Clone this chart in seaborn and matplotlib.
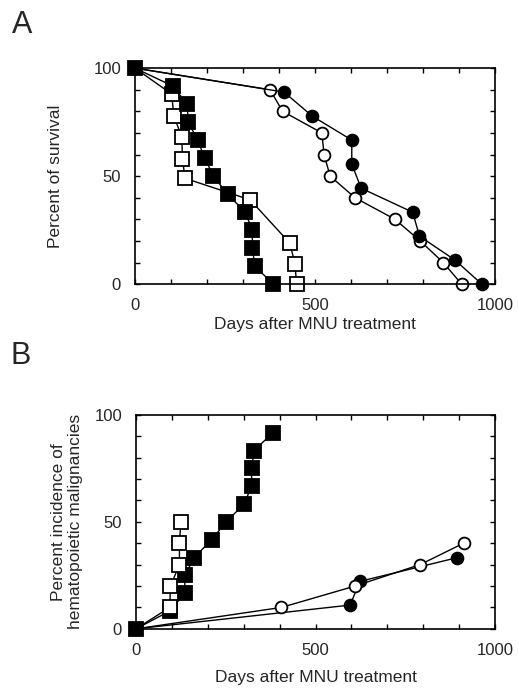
import matplotlib
matplotlib.use("Agg")
import matplotlib.pyplot as plt
from matplotlib.ticker import MultipleLocator
import seaborn as sns
import pandas as pd

# ---- Panel A: survival ----
a_fsq_x = [0, 105, 145, 148, 174, 194, 218, 257, 306, 326, 326, 333, 384]
a_fsq_y = [100, 91.7, 83.3, 75, 66.7, 58.3, 50, 41.7, 33.3, 25, 16.7, 8.3, 0]
a_osq_x = [0, 102, 108, 130, 132, 139, 320, 430, 444, 449]
a_osq_y = [100, 88, 78, 68, 58, 49, 39, 19, 9.5, 0]
a_fci_x = [0, 414, 492, 602, 602, 628, 771, 790, 889, 963]
a_fci_y = [100, 88.9, 77.8, 66.7, 55.6, 44.4, 33.3, 22.2, 11.1, 0]
a_oci_x = [0, 375, 410, 519, 525, 542, 611, 722, 792, 856, 907]
a_oci_y = [100, 90, 80, 70, 60, 50, 40, 30, 20, 10, 0]

# ---- Panel B: incidence ----
b_fsq_x = [0, 94, 136, 136, 162, 211, 251, 301, 322, 322, 329, 381]
b_fsq_y = [0, 8.3, 16.7, 25, 33.3, 41.7, 50, 58.3, 66.7, 75, 83.3, 91.7]
b_osq_x = [0, 94, 96, 121, 121, 125]
b_osq_y = [0, 10, 20, 30, 40, 50]
b_fci_x = [0, 596, 624, 895]
b_fci_y = [0, 11.1, 22.2, 33.3]
b_oci_x = [0, 405, 610, 791, 912]
b_oci_y = [0, 10, 20, 30, 40]

x_ticks = [0, 500, 1000]
y_ticks = [0, 50, 100]
x_label = "Days after MNU treatment"
y_label_a = "Percent of survival"
y_label_b = "Percent incidence of\nhematopoietic malignancies"

sns.set_style("white")
plt.rcParams["font.family"] = ["Liberation Sans", "DejaVu Sans"]

fig = plt.figure(figsize=(5.19, 6.88), dpi=100)
axA = fig.add_axes([0.260, 0.587, 0.694, 0.314])
axB = fig.add_axes([0.262, 0.086, 0.692, 0.311])


def draw(ax, xs, ys, marker, filled, ms, skip_first=False):
    df = pd.DataFrame({"x": xs, "y": ys})
    extra = {}
    if skip_first:
        extra["markevery"] = list(range(1, len(xs)))
    sns.lineplot(data=df, x="x", y="y", ax=ax, sort=False, estimator=None,
                 color="black", linewidth=1.0, marker=marker, markersize=ms,
                 markerfacecolor="black" if filled else "white",
                 markeredgecolor="black", markeredgewidth=1.3, clip_on=False,
                 **extra)


# Panel A: circles, then open squares, filled squares on top
draw(axA, a_oci_x, a_oci_y, "o", False, 8.5, skip_first=True)
draw(axA, a_fci_x, a_fci_y, "o", True, 8.5)
draw(axA, a_osq_x, a_osq_y, "s", False, 9.5, skip_first=True)
draw(axA, a_fsq_x, a_fsq_y, "s", True, 9.5)

# Panel B: filled first, open on top (origin shows filled square)
draw(axB, b_fci_x, b_fci_y, "o", True, 8.5)
draw(axB, b_oci_x, b_oci_y, "o", False, 8.5, skip_first=True)
draw(axB, b_fsq_x, b_fsq_y, "s", True, 9.5)
draw(axB, b_osq_x, b_osq_y, "s", False, 9.5, skip_first=True)

for ax, yl, xpad, ypad in ((axA, y_label_a, 3, 22), (axB, y_label_b, 9, 8)):
    ax.set_xlim(0, 1000)
    ax.set_ylim(0, 100)
    ax.set_xticks(x_ticks)
    ax.set_yticks(y_ticks)
    ax.set_xticklabels([str(t) for t in x_ticks])
    ax.set_yticklabels([str(t) for t in y_ticks])
    ax.xaxis.set_minor_locator(MultipleLocator(100))
    ax.yaxis.set_minor_locator(MultipleLocator(10))
    ax.tick_params(which="both", direction="in", top=True, right=True,
                   bottom=True, left=True, length=3.5, width=1.0, color="black")
    ax.tick_params(which="major", labelsize=12, pad=10)
    for s in ax.spines.values():
        s.set_color("black")
        s.set_linewidth(1.2)
    ax.set_xlabel(x_label, fontsize=12.5, labelpad=xpad)
    ax.set_ylabel(yl, fontsize=12.5, labelpad=ypad)
    ax.set_facecolor("white")

fig.text(0.042, 0.963, "A", fontsize=22, ha="center", va="center")
fig.text(0.040, 0.482, "B", fontsize=22, ha="center", va="center")

fig.savefig("out.png", dpi=100, facecolor="white")
